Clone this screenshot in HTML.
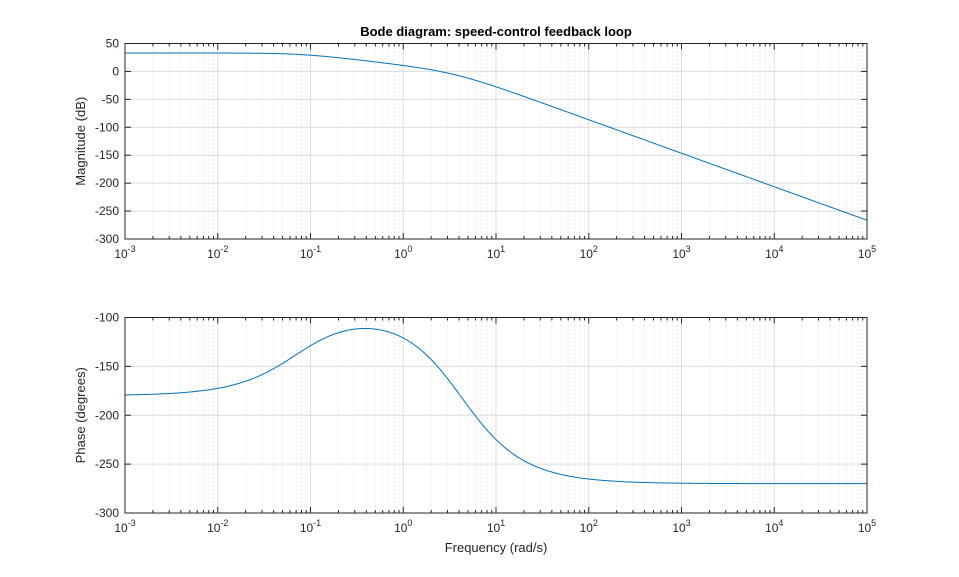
<!DOCTYPE html>
<html><head><style>body{margin:0;background:#fff}svg{display:block;font-family:"Liberation Sans",Arial,sans-serif}</style></head>
<body>
<svg id="s" width="959" height="577" xmlns="http://www.w3.org/2000/svg"></svg>
<script>
const S=document.getElementById('s');let h='';
const X0=125,X1=867,dec=(X1-X0)/8;
const lx=l=>X0+(l+3)*dec;
function axes(top,bot,ymin,ymax,step,ylab,f){
 const fy=v=>bot-(v-ymin)/(ymax-ymin)*(bot-top);
 for(let d=-3;d<5;d++)for(let k=2;k<10;k++){const x=lx(d+Math.log10(k));h+=`<line x1="${x}" y1="${top}" x2="${x}" y2="${bot}" stroke="#dadada" stroke-width="1" stroke-dasharray="1,3"/>`;
  h+=`<line x1="${x}" y1="${top}" x2="${x}" y2="${top+3}" stroke="#262626"/><line x1="${x}" y1="${bot}" x2="${x}" y2="${bot-3}" stroke="#262626"/>`;}
 for(let d=-3;d<=5;d++){const x=lx(d);h+=`<line x1="${x}" y1="${top}" x2="${x}" y2="${bot}" stroke="#dcdcdc"/>`;
  h+=`<line x1="${x}" y1="${top}" x2="${x}" y2="${top+6}" stroke="#262626"/><line x1="${x}" y1="${bot}" x2="${x}" y2="${bot-6}" stroke="#262626"/>`;
  h+=`<text x="${x}" y="${bot+19}" font-size="12" fill="#262626" text-anchor="middle">10<tspan dy="-6" font-size="9">${d}</tspan></text>`;}
 for(let v=ymin;v<=ymax;v+=step){const y=fy(v);h+=`<line x1="${X0}" y1="${y}" x2="${X1}" y2="${y}" stroke="#dcdcdc"/>`;
  h+=`<line x1="${X0}" y1="${y}" x2="${X0+6}" y2="${y}" stroke="#262626"/><line x1="${X1}" y1="${y}" x2="${X1-6}" y2="${y}" stroke="#262626"/>`;
  h+=`<text x="${X0-6}" y="${y+4}" font-size="12" fill="#262626" text-anchor="end">${v}</text>`;}
 let d='';for(let t=-3;t<=5.0001;t+=0.01){d+=(d?'L':'M')+lx(t).toFixed(2)+','+fy(f(t)).toFixed(2);}
 h+=`<path d="${d}" fill="none" stroke="#0072bd" stroke-width="1"/>`;
 h+=`<rect x="${X0}" y="${top}" width="${X1-X0}" height="${bot-top}" fill="none" stroke="#262626"/>`;
 const cy=(top+bot)/2;h+=`<text transform="translate(85,${cy}) rotate(-90)" font-size="13" fill="#262626" text-anchor="middle">${ylab}</text>`;}
axes(43.5,239,-300,50,50,'Magnitude (dB)',t=>{const w=Math.pow(10,t);return 33-10*Math.log10(1+(w/0.082)**2)-20*Math.log10(1+(w/3.6)**2);});
const R=180/Math.PI;
axes(317.5,513,-300,-100,50,'Phase (degrees)',t=>{const w=Math.pow(10,t);return -180+R*Math.atan(w/0.073)-2*R*Math.atan(w/4.2);});
h+=`<text x="496" y="36" font-size="13" font-weight="bold" fill="#000" text-anchor="middle">Bode diagram: speed-control feedback loop</text>`;
h+=`<text x="496" y="552" font-size="13" fill="#262626" text-anchor="middle">Frequency (rad/s)</text>`;
S.innerHTML=h;
</script>
</body></html>
